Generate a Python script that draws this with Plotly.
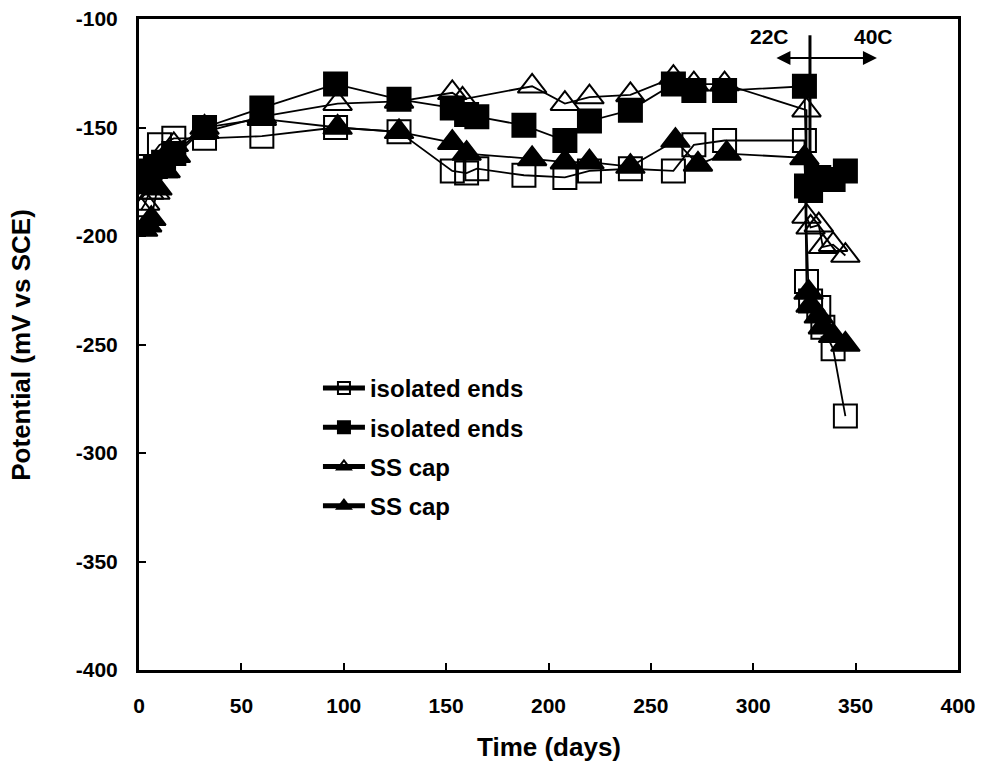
import plotly.graph_objects as go

# ---- data ----
ie_open_days = [2, 10, 17, 32, 60, 96, 127, 153, 160, 165, 188, 208, 220, 240, 261, 271, 286, 325, 326, 328, 332, 334, 339, 345]
ie_open_mv = [-168, -158, -155, -155, -154, -150, -152, -170, -171, -169, -172, -173, -170, -169, -170, -158, -156, -156, -221, -230, -233, -242, -252, -283]

ie_fill_days = [1, 3, 5, 8, 12, 17, 32, 60, 96, 127, 153, 160, 165, 188, 208, 220, 240, 261, 271, 286, 325, 326, 328, 332, 339, 345]
ie_fill_mv = [-170, -175, -172, -168, -166, -162, -150, -141, -130, -137, -141, -144, -145, -149, -156, -147, -142, -130, -133, -133, -131, -177, -179, -173, -174, -170]

ss_open_days = [1, 3, 5, 8, 12, 17, 32, 60, 97, 127, 153, 158, 192, 208, 220, 240, 261, 271, 286, 326, 326, 328, 332, 334, 339, 345]
ss_open_mv = [-188, -185, -180, -180, -170, -158, -152, -145, -139, -138, -134, -137, -131, -139, -136, -135, -127, -130, -130, -142, -191, -196, -195, -205, -204, -209]

ss_fill_days = [2, 4, 6, 9, 13, 18, 32, 60, 97, 127, 153, 160, 192, 208, 220, 240, 262, 273, 287, 325, 327, 328, 332, 334, 339, 345]
ss_fill_mv = [-197, -195, -192, -178, -170, -163, -150, -146, -150, -152, -157, -162, -164.5, -166, -166, -168, -156, -167, -162, -164, -226, -232, -237, -242, -246, -250]

legend_names = ["isolated ends", "isolated ends", "SS cap", "SS cap"]
x_ticks = [0, 50, 100, 150, 200, 250, 300, 350, 400]
x_tick_text = ["0", "50", "100", "150", "200", "250", "300", "350", "400"]
y_ticks = [-100, -150, -200, -250, -300, -350, -400]
y_tick_text = ["-100", "-150", "-200", "-250", "-300", "-350", "-400"]

FONT = "Liberation Sans"

fig = go.Figure()
series = [
    (ie_open_days, ie_open_mv, "square-open", 23),
    (ie_fill_days, ie_fill_mv, "square", 23),
    (ss_open_days, ss_open_mv, "triangle-up-open", 25),
    (ss_fill_days, ss_fill_mv, "triangle-up", 25),
]
for i, (xs, ys, sym, sz) in enumerate(series):
    fig.add_trace(go.Scatter(
        x=xs, y=ys, mode="lines+markers", name=legend_names[i],
        legendgroup=f"g{i}",
        line=dict(color="black", width=1.8),
        marker=dict(symbol=sym, size=sz, color="black",
                    line=dict(color="black", width=2)),
    ))

# temperature change annotation
fig.add_shape(type="line", x0=327.7, x1=327.7, y0=-107.5, y1=-165,
              line=dict(color="black", width=3))
fig.add_annotation(x=360.4, y=-118, ax=310.6, ay=-118, axref="x", ayref="y",
                   xref="x", yref="y", text="", showarrow=True,
                   arrowside="end+start", arrowhead=2, arrowsize=1.4,
                   arrowwidth=2, arrowcolor="black")
fig.add_annotation(x=307.7, y=-108, text="22C", showarrow=False,
                   font=dict(family=FONT, size=21, color="black", weight="bold"))
fig.add_annotation(x=358.5, y=-108, text="40C", showarrow=False,
                   font=dict(family=FONT, size=21, color="black", weight="bold"))

# axis titles
title_font = dict(family=FONT, size=26, color="black", weight="bold")
fig.add_annotation(xref="paper", yref="paper", x=0.5, y=-0.118,
                   xanchor="center", yanchor="middle", showarrow=False,
                   text="Time (days)", font=title_font)
fig.add_annotation(xref="paper", yref="paper", x=-0.145, y=0.5,
                   xanchor="center", yanchor="middle", showarrow=False,
                   textangle=-90, text="Potential (mV vs SCE)", font=title_font)

axis_common = dict(
    showline=True, linecolor="black", linewidth=3, mirror=True,
    ticks="inside", ticklen=7, tickwidth=2, tickcolor="black",
    showgrid=False, zeroline=False, automargin=False,
    tickfont=dict(family=FONT, size=21, color="black", weight="bold"),
)
fig.update_xaxes(range=[0, 400], tickvals=x_ticks, ticktext=x_tick_text,
                 ticklabelstandoff=15, **axis_common)
fig.update_yaxes(range=[-400, -100], tickvals=y_ticks, ticktext=y_tick_text,
                 ticklabelstandoff=14, **axis_common)

fig.update_layout(
    width=982, height=773,
    margin=dict(l=139, r=24, t=19, b=103),
    paper_bgcolor="white", plot_bgcolor="white",
    showlegend=True,
    legend=dict(x=0.2185, y=0.467, xanchor="left", yanchor="top",
                bgcolor="rgba(0,0,0,0)", tracegroupgap=5,
                itemsizing="constant", itemwidth=42,
                font=dict(family=FONT, size=24, color="black", weight="bold")),
)

fig.write_html("out.html")
